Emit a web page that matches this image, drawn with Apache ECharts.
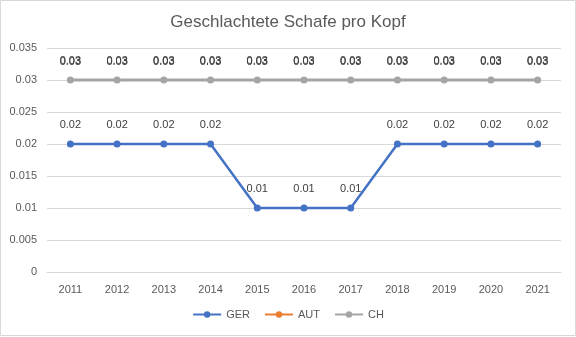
<!DOCTYPE html>
<html><head><meta charset="utf-8">
<script src="https://cdn.jsdelivr.net/npm/echarts@6/dist/echarts.min.js"></script>
<style>html,body{margin:0;padding:0;background:#fff}#c{width:576px;height:337px}</style>
</head><body><div id="c"></div>
<script>
const categories = ['2011','2012','2013','2014','2015','2016','2017','2018','2019','2020','2021'];
const gerValues = [0.02,0.02,0.02,0.02,0.01,0.01,0.01,0.02,0.02,0.02,0.02];
const autValues = [0.03,0.03,0.03,0.03,0.03,0.03,0.03,0.03,0.03,0.03,0.03];
const chValues  = [0.03,0.03,0.03,0.03,0.03,0.03,0.03,0.03,0.03,0.03,0.03];
const seriesNames = ['GER','AUT','CH'];
const colors = ['#4472C4','#ED7D31','#A5A5A5'];
const font = 'Liberation Sans, Arial, sans-serif';
const chart = echarts.init(document.getElementById('c'), null, {renderer:'canvas'});
function mk(name, data, color, z, lw, ss){
  return {name, type:'line', data, z,
    symbol:'circle', symbolSize:ss,
    lineStyle:{color, width:lw}, itemStyle:{color},
    label:{show:true, position:'top', distance:10, color:'#404040', fontSize:11, fontFamily:font},
    emphasis:{disabled:true}, animation:false};
}
chart.setOption({
  animation:false,
  title:{text:'Geschlachtete Schafe pro Kopf', left:'center', top:9,
    textStyle:{color:'#595959', fontSize:17, fontWeight:'normal', fontFamily:font}},
  graphic:[{type:'rect', shape:{x:0.5,y:0.5,width:575,height:335}, style:{fill:'none', stroke:'#D9D9D9', lineWidth:1}, silent:true}],
  grid:{left:47, right:15, top:48, bottom:65},
  legend:{bottom:12, left:'center', itemWidth:28, itemHeight:8, itemGap:14,
    textStyle:{color:'#595959', fontSize:11, fontFamily:font},
    data:seriesNames},
  xAxis:{type:'category', data:categories, boundaryGap:true,
    axisLine:{lineStyle:{color:'#D9D9D9'}}, axisTick:{show:false},
    axisLabel:{color:'#595959', fontSize:11, fontFamily:font, margin:12}},
  yAxis:{type:'value', min:0, max:0.035, interval:0.005,
    axisLine:{show:false}, axisTick:{show:false},
    splitLine:{lineStyle:{color:'#D9D9D9'}},
    axisLabel:{color:'#595959', fontSize:11, fontFamily:font, margin:10,
      formatter:v=>String(+v.toFixed(3))}},
  series:[mk('GER',gerValues,colors[0],3,2.5,7), mk('AUT',autValues,colors[1],2,2,6), mk('CH',chValues,colors[2],4,3,7)]
});
</script></body></html>
